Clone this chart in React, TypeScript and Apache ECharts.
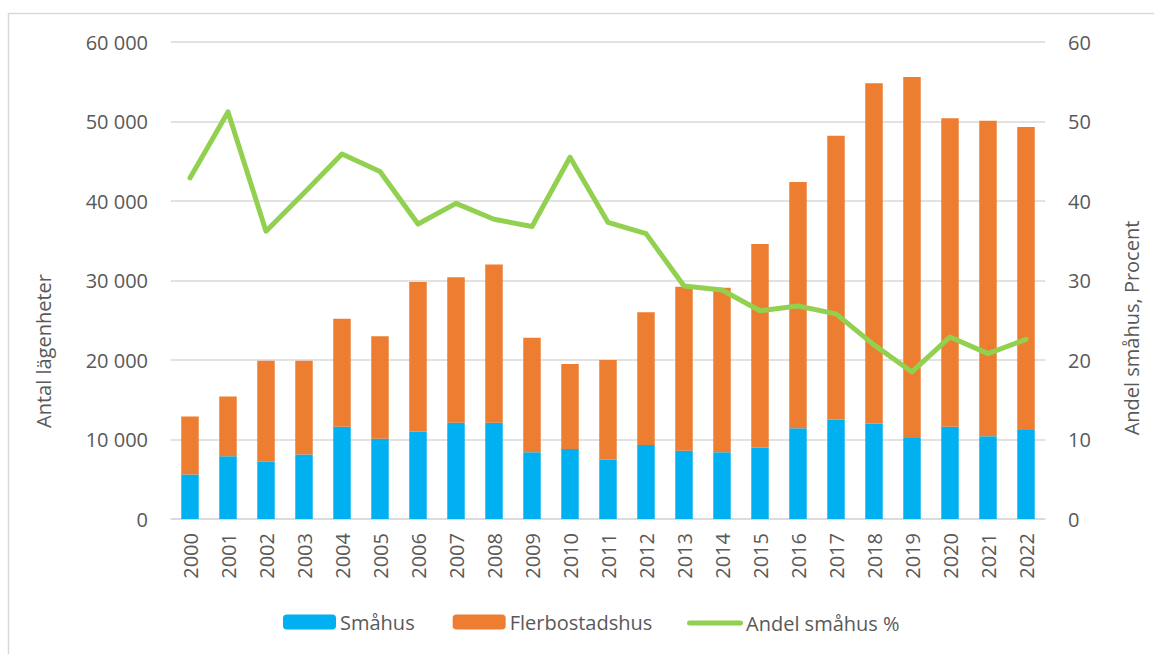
import React, { useEffect, useRef } from "react";
import * as echarts from "echarts";

const years = ["2000","2001","2002","2003","2004","2005","2006","2007","2008","2009","2010","2011","2012","2013","2014","2015","2016","2017","2018","2019","2020","2021","2022"];
const smahus = [5600, 7900, 7200, 8100, 11600, 10100, 11000, 12100, 12100, 8400, 8800, 7500, 9300, 8600, 8400, 9000, 11400, 12500, 12000, 10200, 11600, 10400, 11200];
const flerbostadshus = [7300, 7500, 12700, 11800, 13600, 12900, 18800, 18300, 19900, 14400, 10700, 12500, 16700, 20600, 20700, 25600, 31000, 35700, 42800, 45400, 38800, 39700, 38100];
const andelSmahus = [42.9, 51.2, 36.2, 41.0, 45.9, 43.7, 37.1, 39.7, 37.7, 36.8, 45.5, 37.3, 35.9, 29.3, 28.8, 26.2, 26.8, 25.8, 21.9, 18.5, 22.9, 20.8, 22.6];

const FONT = "'Open Sans', sans-serif";
const TXT = "#595959";
const GREEN = "#92d050";

function fmtThousands(v: number): string {
  return String(v).replace(/\B(?=(\d{3})+(?!\d))/g, " ");
}

export default function App() {
  const ref = useRef<HTMLDivElement>(null);
  useEffect(() => {
    if (!ref.current) return;
    const chart = echarts.init(ref.current, undefined, { renderer: "svg" });
    chart.setOption({
      animation: false,
      backgroundColor: "#ffffff",
      textStyle: { fontFamily: FONT, color: TXT },
      grid: { left: 171, right: 109, top: 42, height: 477, containLabel: false },
      legend: {
        left: 278,
        top: 607,
        itemWidth: 53,
        itemHeight: 15,
        itemGap: 38,
        textStyle: { fontFamily: FONT, fontSize: 20, color: TXT, padding: [0, 0, 0, -1] },
        data: ["Småhus", "Flerbostadshus"],
      },
      xAxis: {
        type: "category",
        data: years,
        axisLine: { show: true, lineStyle: { color: "#d9d9d9", width: 1.5 } },
        axisTick: { show: false },
        axisLabel: { rotate: 90, margin: 14, fontSize: 20, color: TXT, fontFamily: FONT, interval: 0 },
      },
      yAxis: [
        {
          type: "value",
          min: 0,
          max: 60000,
          interval: 10000,
          axisLine: { show: false },
          axisTick: { show: false },
          splitLine: { lineStyle: { color: "#d9d9d9", width: 1.5 } },
          axisLabel: { margin: 23, fontSize: 20, color: TXT, fontFamily: FONT, formatter: (v: number) => fmtThousands(v) },
        },
        {
          type: "value",
          min: 0,
          max: 60,
          interval: 10,
          position: "right",
          axisLine: { show: false },
          axisTick: { show: false },
          splitLine: { show: false },
          axisLabel: { margin: 23, fontSize: 20, color: TXT, fontFamily: FONT },
        },
      ],
      series: [
        {
          name: "Småhus",
          type: "bar",
          stack: "total",
          data: smahus,
          barWidth: "46%",
          itemStyle: { color: "#00b0f0" },
        },
        {
          name: "Flerbostadshus",
          type: "bar",
          stack: "total",
          data: flerbostadshus,
          barWidth: "46%",
          itemStyle: { color: "#ed7d31" },
        },
        {
          name: "Andel småhus %",
          type: "line",
          yAxisIndex: 1,
          data: andelSmahus,
          symbol: "none",
          lineStyle: { color: GREEN, width: 5, cap: "round", join: "round" },
          itemStyle: { color: GREEN },
        },
      ],
      graphic: [
        {
          type: "rect",
          shape: { x: 8.5, y: 13.5, width: 1300, height: 800 },
          style: { fill: "none", stroke: "#d9d9d9", lineWidth: 1.5 },
          silent: true,
        },
        {
          type: "text",
          x: 43,
          y: 351,
          rotation: Math.PI / 2,
          style: { text: "Antal lägenheter", fontFamily: FONT, fontSize: 20, fill: TXT, align: "center", verticalAlign: "middle" },
        },
        {
          type: "text",
          x: 1131,
          y: 328,
          rotation: Math.PI / 2,
          style: { text: "Andel småhus, Procent", fontFamily: FONT, fontSize: 20, fill: TXT, align: "center", verticalAlign: "middle" },
        },
        {
          type: "line",
          shape: { x1: 689.5, y1: 623, x2: 740.5, y2: 623 },
          style: { stroke: GREEN, lineWidth: 5, lineCap: "round" },
          silent: true,
        },
        {
          type: "text",
          x: 746,
          y: 623,
          style: { text: "Andel småhus %", fontFamily: FONT, fontSize: 20, fill: TXT, align: "left", verticalAlign: "middle" },
        },
      ],
    });
    return () => chart.dispose();
  }, []);
  return <div ref={ref} style={{ position: "fixed", left: 0, top: 0, width: 1154, height: 654 }} />;
}
